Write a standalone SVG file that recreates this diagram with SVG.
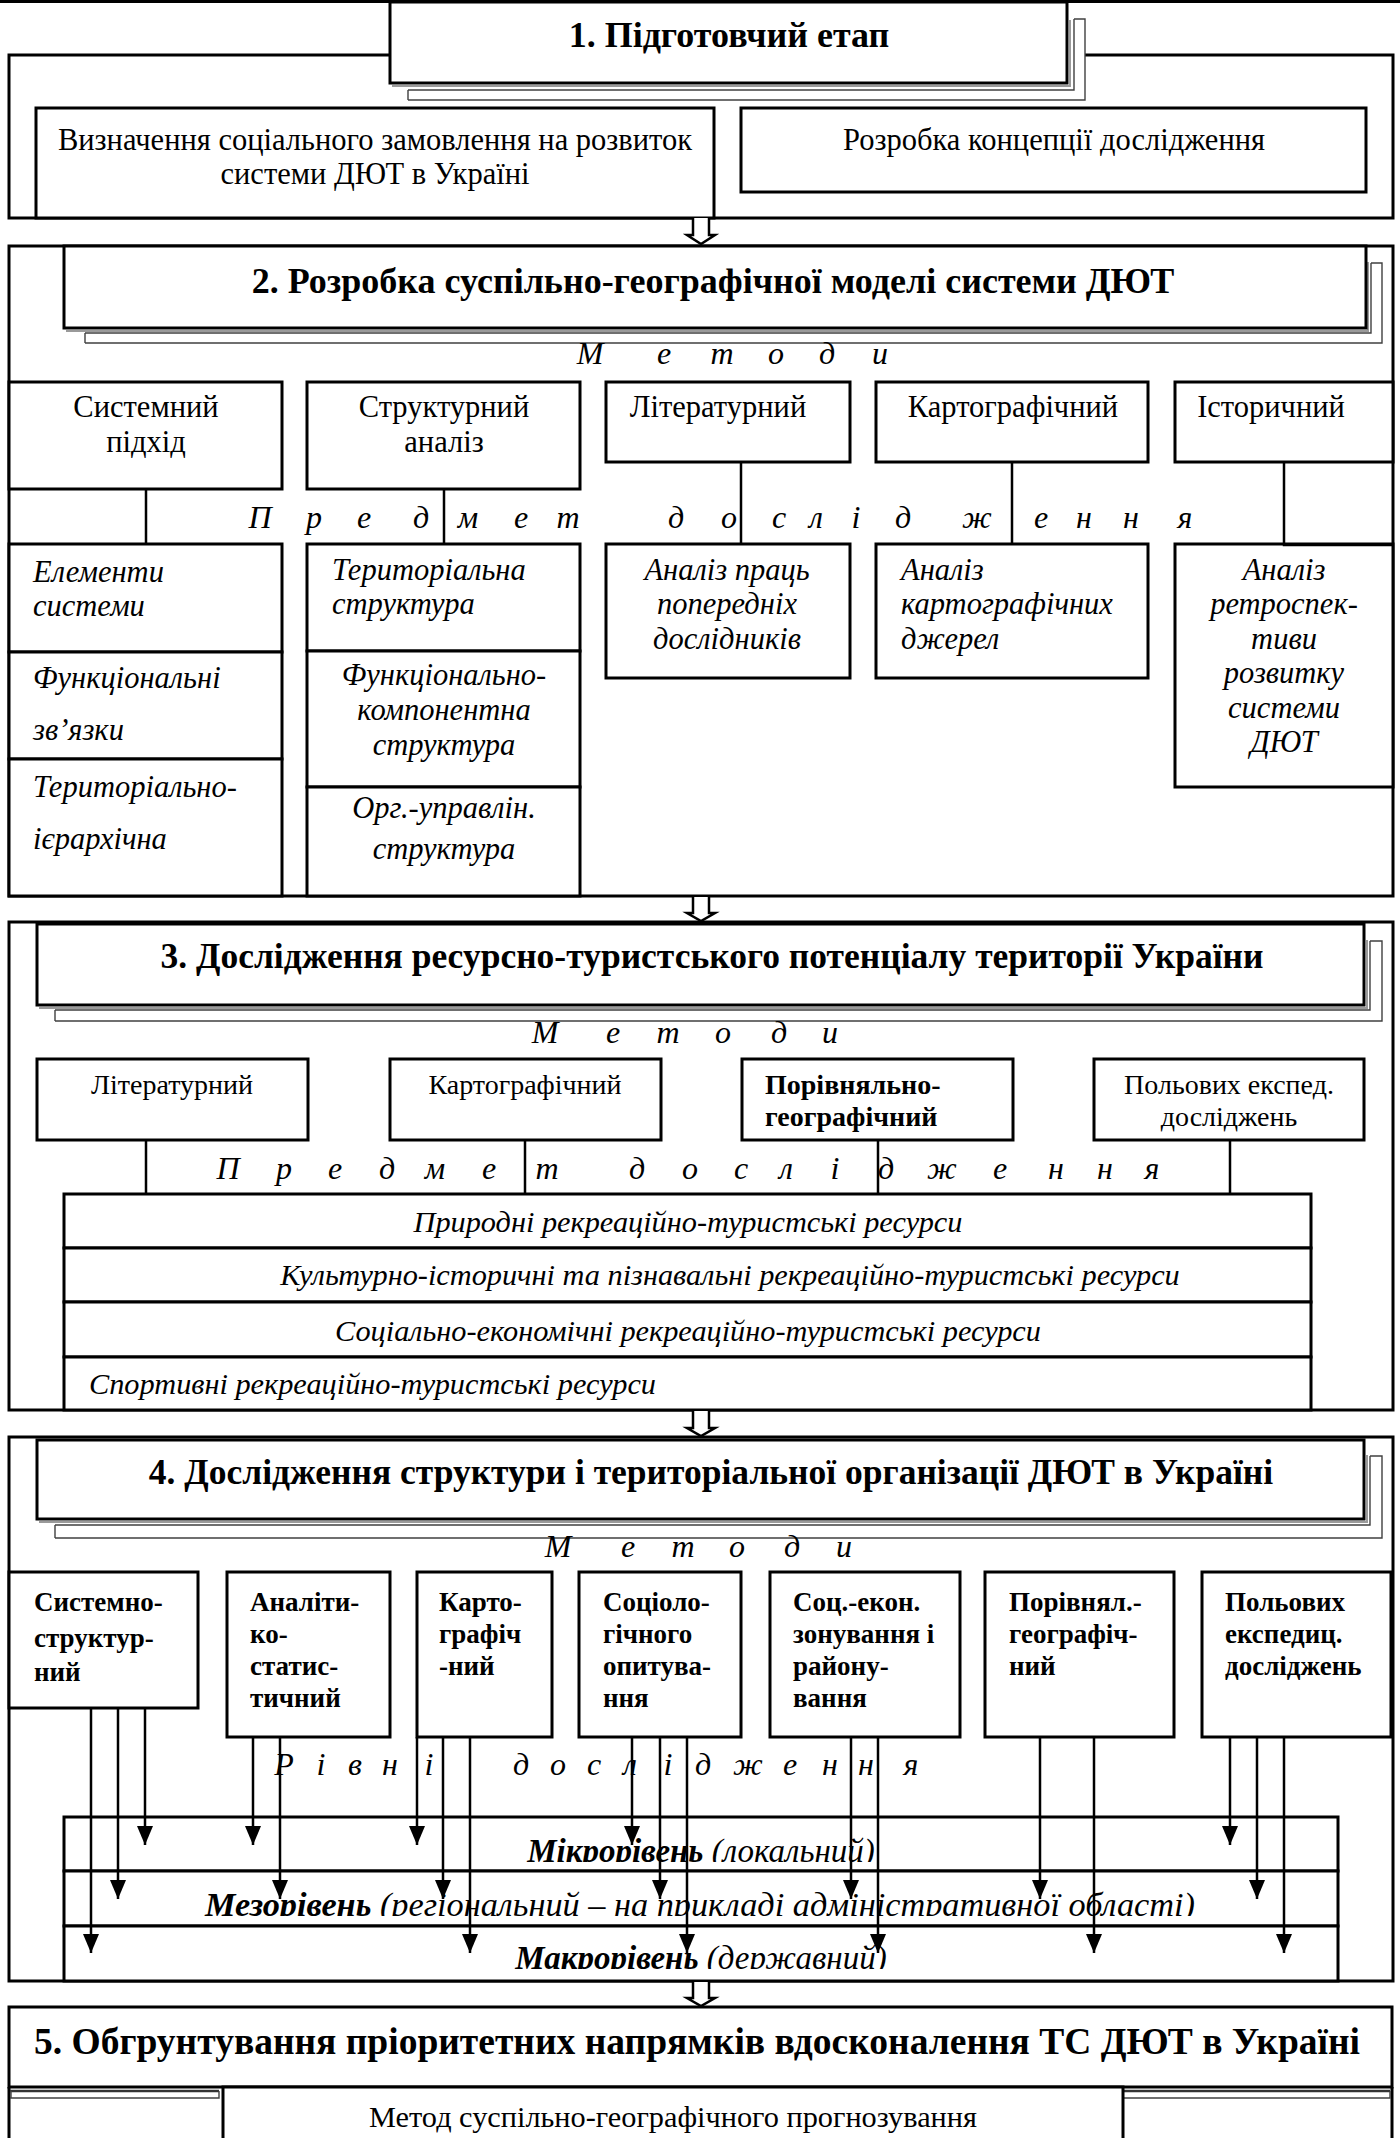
<svg xmlns="http://www.w3.org/2000/svg" width="1400" height="2138" viewBox="0 0 1400 2138">
<style>
.bg{fill:#fff}
.box{fill:#fff;stroke:#000;stroke-width:3}
.frame{fill:none;stroke:#000;stroke-width:3}
.ln{stroke:#000;stroke-width:2.5;fill:none}
.sh{fill:none;stroke:#404040;stroke-width:1.4}
.shg{fill:none;stroke:#9a9a9a;stroke-width:2}
.dar{fill:#fff;stroke:#000;stroke-width:2.5;stroke-linejoin:miter}
text{font-family:"Liberation Serif","Times New Roman",serif;fill:#000}
.r30{font-size:30.5px}
.r28{font-size:28px}
.r30b{font-size:30.3px}
.i29{font-size:30.5px;font-style:italic}
.i30r{font-size:30.3px;font-style:italic}
.sp{font-size:32px;font-style:italic}
.lv{font-size:33px;font-style:italic}
.b27{font-size:27px;font-weight:bold}
.b28{font-size:28px;font-weight:bold}
.ttl{font-size:36px;font-weight:bold}
.ttl34{font-size:35.5px;font-weight:bold}
.ttl5{font-size:37.5px;font-weight:bold}
.c{text-anchor:middle}
</style>
<defs>
<marker id="ah" markerUnits="userSpaceOnUse" viewBox="0 0 19 16" markerWidth="19" markerHeight="16" refX="19" refY="8" orient="auto">
<path d="M0,0 L19,8 L0,16 Z" fill="#000"/>
</marker>
<clipPath id="clMic"><rect x="64" y="1819" width="1274" height="43"/></clipPath>
<clipPath id="clMez"><rect x="64" y="1873" width="1274" height="43"/></clipPath>
<clipPath id="clMak"><rect x="64" y="1928" width="1274" height="41"/></clipPath>
</defs>
<rect class="bg" x="0" y="0" width="1400" height="2138"/>
<line x1="0" y1="1.5" x2="1400" y2="1.5" stroke="#000" stroke-width="3"/>

<!-- ===== Section 1 ===== -->
<g id="section1">
<rect class="frame" x="9" y="55" width="1384" height="163"/>
</g>
<g id="s1-social-order">
<rect class="box" x="36" y="108" width="678" height="110"/>
<text class="r30 c" x="375" y="150">Визначення соціального замовлення на розвиток</text>
<text class="r30 c" x="375" y="184">системи ДЮТ в Україні</text>
</g>
<g id="s1-concept">
<rect class="box" x="741" y="108" width="625" height="84"/>
<text class="r30 c" x="1054" y="150">Розробка концепції дослідження</text>
</g>
<g id="s1-title">
<rect x="408" y="19" width="677" height="81" fill="#fff"/>
<path class="sh" d="M408,100 H1085 V19 H1074 M408,90 H1074 V19 M408,90 V100"/>
<path class="shg" d="M392,86 H1070 V20"/>
<rect class="box" x="390" y="2" width="677" height="81"/>
<text class="ttl c" x="729" y="47">1. Підготовчий етап</text>
</g>

<!-- ===== Section 2 ===== -->
<g id="section2">
<rect class="frame" x="9" y="246" width="1384" height="650"/>
</g>
<g id="s2-title">
<rect x="85" y="263" width="1297" height="80" fill="#fff"/>
<path class="sh" d="M85,343 H1382 V263 H1371 M85,333 H1371 V263 M85,333 V343"/>
<path class="shg" d="M66,331 H1368 V262"/>
<rect class="box" x="64" y="246" width="1302" height="82"/>
<text class="ttl c" x="713" y="293">2. Розробка суспільно-географічної моделі системи ДЮТ</text>
</g>
<g id="s2-labels">
<text class="sp c" x="590 664 722 776 827 880" y="364">Методи</text>
<text class="sp c" x="260 314 364 421 468 521 568 676 729 779 816 856 903 977 1041 1084 1131 1185" y="528">Предметдослідження</text>
</g>
<g id="s2-m-system">
<rect class="box" x="9" y="382" width="273" height="107"/>
<text class="r30 c" x="146" y="417">Системний</text>
<text class="r30 c" x="146" y="452">підхід</text>
</g>
<g id="s2-m-struct">
<rect class="box" x="307" y="382" width="273" height="107"/>
<text class="r30 c" x="444" y="417">Структурний</text>
<text class="r30 c" x="444" y="452">аналіз</text>
</g>
<g id="s2-m-lit">
<rect class="box" x="606" y="382" width="244" height="80"/>
<text class="r30 c" x="718" y="417">Літературний</text>
</g>
<g id="s2-m-kart">
<rect class="box" x="876" y="382" width="272" height="80"/>
<text class="r30 c" x="1013" y="417">Картографічний</text>
</g>
<g id="s2-m-hist">
<rect class="box" x="1175" y="382" width="218" height="80"/>
<text class="r30 c" x="1271" y="417">Історичний</text>
</g>
<g id="s2-o-elements">
<rect class="box" x="9" y="544" width="273" height="108"/>
<text class="i29" x="33" y="582">Елементи</text>
<text class="i29" x="33" y="616">системи</text>
</g>
<g id="s2-o-links">
<rect class="box" x="9" y="652" width="273" height="107"/>
<text class="i29" x="33" y="688">Функціональні</text>
<text class="i29" x="33" y="740">зв’язки</text>
</g>
<g id="s2-o-hier">
<rect class="box" x="9" y="759" width="273" height="137"/>
<text class="i29" x="33" y="797">Територіально-</text>
<text class="i29" x="33" y="849">ієрархічна</text>
</g>
<g id="s2-o-terr">
<rect class="box" x="307" y="544" width="273" height="107"/>
<text class="i29" x="332" y="580">Територіальна</text>
<text class="i29" x="332" y="614">структура</text>
</g>
<g id="s2-o-func">
<rect class="box" x="307" y="651" width="273" height="136"/>
<text class="i29 c" x="444" y="685">Функціонально-</text>
<text class="i29 c" x="444" y="720">компонентна</text>
<text class="i29 c" x="444" y="755">структура</text>
</g>
<g id="s2-o-org">
<rect class="box" x="307" y="787" width="273" height="109"/>
<text class="i29 c" x="444" y="818">Орг.-управлін.</text>
<text class="i29 c" x="444" y="859">структура</text>
</g>
<g id="s2-o-lit">
<rect class="box" x="606" y="544" width="244" height="134"/>
<text class="i29 c" x="727" y="580">Аналіз праць</text>
<text class="i29 c" x="727" y="614">попередніх</text>
<text class="i29 c" x="727" y="649">дослідників</text>
</g>
<g id="s2-o-kart">
<rect class="box" x="876" y="544" width="272" height="134"/>
<text class="i29" x="901" y="580">Аналіз</text>
<text class="i29" x="901" y="614">картографічних</text>
<text class="i29" x="901" y="649">джерел</text>
</g>
<g id="s2-o-hist">
<rect class="box" x="1175" y="544" width="218" height="243"/>
<text class="i29 c" x="1284" y="580">Аналіз</text>
<text class="i29 c" x="1284" y="614">ретроспек-</text>
<text class="i29 c" x="1284" y="649">тиви</text>
<text class="i29 c" x="1284" y="683">розвитку</text>
<text class="i29 c" x="1284" y="718">системи</text>
<text class="i29 c" x="1284" y="752">ДЮТ</text>
</g>

<!-- ===== Section 3 ===== -->
<g id="section3">
<rect class="frame" x="9" y="922" width="1384" height="488"/>
</g>
<g id="s3-title">
<rect x="55" y="941" width="1327" height="80" fill="#fff"/>
<path class="sh" d="M55,1021 H1382 V941 H1370 M55,1010 H1370 V941 M55,1010 V1021"/>
<path class="shg" d="M39,1008 H1367 V940"/>
<rect class="box" x="37" y="924" width="1327" height="81"/>
<text class="ttl34 c" x="712" y="968">3. Дослідження ресурсно-туристського потенціалу території України</text>
</g>
<g id="s3-labels">
<text class="sp c" x="545 613 668 723 779 830" y="1043">Методи</text>
<text class="sp c" x="228 284 335 387 435 489 547 637 690 741 786 835 886 942 1000 1056 1105 1152" y="1179">Предметдослідження</text>
</g>
<g id="s3-m-lit">
<rect class="box" x="37" y="1059" width="271" height="81"/>
<text class="r28 c" x="172" y="1094">Літературний</text>
</g>
<g id="s3-m-kart">
<rect class="box" x="390" y="1059" width="271" height="81"/>
<text class="r28 c" x="525" y="1094">Картографічний</text>
</g>
<g id="s3-m-comp">
<rect class="box" x="742" y="1059" width="271" height="81" stroke-width="3.5"/>
<text class="b28" x="765" y="1094">Порівняльно-</text>
<text class="b28" x="765" y="1126">географічний</text>
</g>
<g id="s3-m-field">
<rect class="box" x="1094" y="1059" width="270" height="81"/>
<text class="r28 c" x="1229" y="1094">Польових експед.</text>
<text class="r28 c" x="1229" y="1126">досліджень</text>
</g>
<g id="s3-r-nature">
<rect class="box" x="64" y="1194" width="1247" height="54"/>
<text class="i30r c" x="688" y="1232">Природні рекреаційно-туристські ресурси</text>
</g>
<g id="s3-r-culture">
<rect class="box" x="64" y="1248" width="1247" height="54"/>
<text class="i30r c" x="730" y="1285">Культурно-історичні та пізнавальні рекреаційно-туристські ресурси</text>
</g>
<g id="s3-r-socec">
<rect class="box" x="64" y="1302" width="1247" height="55"/>
<text class="i30r c" x="688" y="1341">Соціально-економічні рекреаційно-туристські ресурси</text>
</g>
<g id="s3-r-sport">
<rect class="box" x="64" y="1357" width="1247" height="53"/>
<text class="i30r" x="89" y="1394">Спортивні рекреаційно-туристські ресурси</text>
</g>

<!-- ===== Section 4 ===== -->
<g id="section4">
<rect class="frame" x="9" y="1437" width="1384" height="544"/>
</g>
<g id="s4-title">
<rect x="55" y="1456" width="1327" height="82" fill="#fff"/>
<path class="sh" d="M55,1538 H1382 V1456 H1370 M55,1525 H1370 V1456 M55,1525 V1538"/>
<path class="shg" d="M39,1522 H1367 V1455"/>
<rect class="box" x="37" y="1440" width="1327" height="79"/>
<text class="ttl34 c" x="711" y="1484">4. Дослідження структури і територіальної організації ДЮТ в Україні</text>
</g>
<g id="s4-labels">
<text class="sp c" x="558 628 683 737 792 844" y="1557">Методи</text>
<text class="sp c" x="284 321 355 390 429 521 558 594 630 668 703 748 790 830 866 911" y="1775">Рівнідослідження</text>
</g>
<g id="s4-m1">
<rect class="box" x="9" y="1572" width="189" height="136"/>
<text class="b27" x="34" y="1611">Системно-</text>
<text class="b27" x="34" y="1647">структур-</text>
<text class="b27" x="34" y="1681">ний</text>
</g>
<g id="s4-m2">
<rect class="box" x="227" y="1572" width="163" height="165"/>
<text class="b27" x="250" y="1611">Аналіти-</text>
<text class="b27" x="250" y="1643">ко-</text>
<text class="b27" x="250" y="1675">статис-</text>
<text class="b27" x="250" y="1707">тичний</text>
</g>
<g id="s4-m3">
<rect class="box" x="417" y="1572" width="135" height="165"/>
<text class="b27" x="439" y="1611">Карто-</text>
<text class="b27" x="439" y="1643">графіч</text>
<text class="b27" x="439" y="1675">-ний</text>
</g>
<g id="s4-m4">
<rect class="box" x="579" y="1572" width="162" height="165"/>
<text class="b27" x="603" y="1611">Соціоло-</text>
<text class="b27" x="603" y="1643">гічного</text>
<text class="b27" x="603" y="1675">опитува-</text>
<text class="b27" x="603" y="1707">ння</text>
</g>
<g id="s4-m5">
<rect class="box" x="770" y="1572" width="190" height="165"/>
<text class="b27" x="793" y="1611">Соц.-екон.</text>
<text class="b27" x="793" y="1643">зонування і</text>
<text class="b27" x="793" y="1675">району-</text>
<text class="b27" x="793" y="1707">вання</text>
</g>
<g id="s4-m6">
<rect class="box" x="985" y="1572" width="189" height="165"/>
<text class="b27" x="1009" y="1611">Порівнял.-</text>
<text class="b27" x="1009" y="1643">географіч-</text>
<text class="b27" x="1009" y="1675">ний</text>
</g>
<g id="s4-m7">
<rect class="box" x="1202" y="1572" width="189" height="165"/>
<text class="b27" x="1225" y="1611">Польових</text>
<text class="b27" x="1225" y="1643">експедиц.</text>
<text class="b27" x="1225" y="1675">досліджень</text>
</g>
<g id="s4-l-micro">
<rect class="box" x="64" y="1817" width="1274" height="54"/>
<text class="lv c" x="701" y="1862" clip-path="url(#clMic)"><tspan font-weight="bold">Мікрорівень</tspan> (локальний)</text>
</g>
<g id="s4-l-meso">
<rect class="box" x="64" y="1871" width="1274" height="55"/>
<text class="lv c" x="700" y="1916" textLength="990" lengthAdjust="spacingAndGlyphs" clip-path="url(#clMez)"><tspan font-weight="bold">Мезорівень</tspan> (регіональний – на прикладі адміністративної області)</text>
</g>
<g id="s4-l-macro">
<rect class="box" x="64" y="1926" width="1274" height="55"/>
<text class="lv c" x="701" y="1969" clip-path="url(#clMak)"><tspan font-weight="bold">Макрорівень</tspan> (державний)</text>
</g>

<!-- ===== Section 5 ===== -->
<g id="section5">
<path class="frame" d="M9,2087 V2140 M1392,2087 V2140"/>
<path d="M10,2091 H219 M1123,2091 H1390" stroke="#333" stroke-width="2.5" fill="none"/>
<path class="sh" d="M10,2098 H219 V2091 M1123,2098 H1390 V2091 M11,2091 V2098"/>
</g>
<g id="s5-title">
<rect class="box" x="9" y="2007" width="1383" height="80"/>
<text class="ttl5 c" x="697" y="2054">5. Обгрунтування пріоритетних напрямків вдосконалення ТС ДЮТ в Україні</text>
</g>
<g id="s5-method">
<rect class="box" x="223" y="2087" width="900" height="70"/>
<text class="r30b c" x="673" y="2127">Метод суспільно-географічного прогнозування</text>
</g>

<!-- ===== Connectors ===== -->
<g id="connectors">
<path class="dar" d="M693,218 V235 L687,235 L701,244 L715,235 L709,235 V218"/>
<path class="dar" d="M693,897 V913 L687,913 L701,921 L715,913 L709,913 V897"/>
<path class="dar" d="M693,1411 V1428 L687,1428 L701,1436 L715,1428 L709,1428 V1411"/>
<path class="dar" d="M693,1982 V1998 L687,1998 L701,2006 L715,1998 L709,1998 V1982"/>
<path class="ln" d="M146,489 V544 M444,489 V544 M741,462 V544 M1012,462 V544 M1284,462 V545 H1393"/>
<path class="ln" d="M146,1140 V1194 M525,1140 V1194 M878,1140 V1194 M1230,1140 V1194"/>
<g class="ln" marker-end="url(#ah)">
<line x1="145" y1="1708" x2="145" y2="1845"/>
<line x1="118" y1="1708" x2="118" y2="1899"/>
<line x1="91" y1="1708" x2="91" y2="1953"/>
<line x1="253" y1="1737" x2="253" y2="1845"/>
<line x1="280" y1="1737" x2="280" y2="1899"/>
<line x1="417" y1="1737" x2="417" y2="1845"/>
<line x1="443" y1="1737" x2="443" y2="1899"/>
<line x1="470" y1="1737" x2="470" y2="1953"/>
<line x1="632" y1="1737" x2="632" y2="1845"/>
<line x1="660" y1="1737" x2="660" y2="1899"/>
<line x1="687" y1="1737" x2="687" y2="1953"/>
<line x1="851" y1="1737" x2="851" y2="1899"/>
<line x1="878" y1="1737" x2="878" y2="1953"/>
<line x1="1040" y1="1737" x2="1040" y2="1899"/>
<line x1="1094" y1="1737" x2="1094" y2="1953"/>
<line x1="1230" y1="1737" x2="1230" y2="1845"/>
<line x1="1257" y1="1737" x2="1257" y2="1899"/>
<line x1="1284" y1="1737" x2="1284" y2="1953"/>
</g>
</g>
</svg>
